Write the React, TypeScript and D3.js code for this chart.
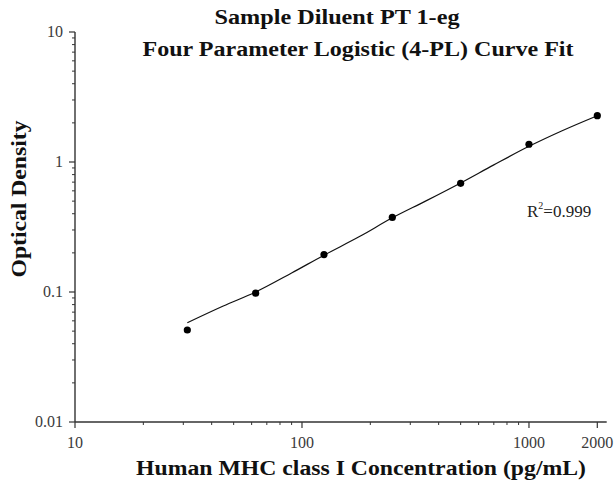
import * as d3 from 'd3';

const W = 615;
const H = 484;

// standards (pg/mL) and measured OD
const concentrations = [31.25, 62.5, 125, 250, 500, 1000, 2000];
const odValues = [0.051, 0.098, 0.194, 0.375, 0.685, 1.37, 2.27];

// fitted 4-PL curve
const curveX = [31.25, 45, 62.5, 90, 125, 180, 250, 350, 500, 700, 1000, 1400, 2000];
const curveY = [0.058, 0.078, 0.100, 0.140, 0.192, 0.268, 0.372, 0.50, 0.69, 0.95, 1.32, 1.74, 2.27];

const xTickLabels = [10, 100, 1000, 2000];
const yTickLabels = [0.01, 0.1, 1, 10];

const titleLines = ['Sample Diluent PT 1-eg', 'Four Parameter Logistic (4-PL) Curve Fit'];
const xTitle = 'Human MHC class I Concentration (pg/mL)';
const yTitle = 'Optical Density';

const serif = '"Liberation Serif", "Times New Roman", serif';
const axisColor = '#333';

export default function App() {
  const x = d3.scaleLog().domain([10, 2200]).range([75, 606.7]);
  const y = d3.scaleLog().domain([0.01, 10]).range([422, 32]);

  const line = d3
    .line<number>()
    .x((d, i) => x(curveX[i]))
    .y((d) => y(d))
    .curve(d3.curveMonotoneX);

  // minor ticks
  const xMinor: number[] = [];
  for (const base of [10, 100, 1000]) {
    for (let k = 2; k <= 9; k++) {
      const v = base * k;
      if (v < 2200 && !xTickLabels.includes(v)) xMinor.push(v);
    }
  }
  const yMinor: number[] = [];
  for (const base of [0.01, 0.1, 1]) {
    for (let k = 2; k <= 9; k++) yMinor.push(base * k);
  }

  const [x0, x1] = x.range();
  const [yb, yt] = y.range();

  return (
    <svg
      width={W}
      height={H}
      style={{ position: 'absolute', left: 0, top: 0, background: '#fff' }}
      fontFamily={serif}
    >
      <rect width={W} height={H} fill="#fff" />

      {/* titles */}
      <text
        x={337}
        y={24}
        textAnchor="middle"
        fontSize={20}
        fontWeight="bold"
        fill="#111"
        textLength={245}
        lengthAdjust="spacingAndGlyphs"
      >
        {titleLines[0]}
      </text>
      <text
        x={358}
        y={56}
        textAnchor="middle"
        fontSize={20}
        fontWeight="bold"
        fill="#111"
        textLength={431}
        lengthAdjust="spacingAndGlyphs"
      >
        {titleLines[1]}
      </text>

      {/* axes */}
      <line x1={x0} x2={x1} y1={yb} y2={yb} stroke={axisColor} strokeWidth={1.4} />
      <line x1={x0} x2={x0} y1={yb} y2={yt} stroke={axisColor} strokeWidth={1.4} />

      {xTickLabels.map((v) => (
        <g key={'xt' + v}>
          <line x1={x(v)} x2={x(v)} y1={yb} y2={yb + 6} stroke={axisColor} strokeWidth={1.2} />
          <text x={x(v)} y={yb + 26} textAnchor="middle" fontSize={16} fill="#3a3a3a">
            {v}
          </text>
        </g>
      ))}
      {xMinor.map((v) => (
        <line key={'xm' + v} x1={x(v)} x2={x(v)} y1={yb} y2={yb + 3} stroke={axisColor} strokeWidth={1} />
      ))}

      {yTickLabels.map((v) => (
        <g key={'yt' + v}>
          <line x1={x0 - 6} x2={x0} y1={y(v)} y2={y(v)} stroke={axisColor} strokeWidth={1.2} />
          <text x={x0 - 12} y={y(v) + 5} textAnchor="end" fontSize={16} fill="#3a3a3a">
            {v}
          </text>
        </g>
      ))}
      {yMinor.map((v) => (
        <line key={'ym' + v} x1={x0 - 3} x2={x0} y1={y(v)} y2={y(v)} stroke={axisColor} strokeWidth={1} />
      ))}

      {/* axis titles */}
      <text
        x={361}
        y={475}
        textAnchor="middle"
        fontSize={20}
        fontWeight="bold"
        fill="#111"
        textLength={450}
        lengthAdjust="spacingAndGlyphs"
      >
        {xTitle}
      </text>
      <text
        transform={`translate(26,199) rotate(-90)`}
        textAnchor="middle"
        fontSize={20}
        fontWeight="bold"
        fill="#111"
        textLength={157}
        lengthAdjust="spacingAndGlyphs"
      >
        {yTitle}
      </text>

      {/* fit curve */}
      <path d={line(curveY) || ''} fill="none" stroke="#111" strokeWidth={1.2} />

      {/* data points */}
      {concentrations.map((c, i) => (
        <circle key={c} cx={x(c)} cy={y(odValues[i])} r={3.6} fill="#000" />
      ))}

      {/* R^2 */}
      <text x={527} y={217} fontSize={17} fill="#222">
        R
        <tspan fontSize={10} dy={-8}>
          2
        </tspan>
        <tspan dy={8}>=0.999</tspan>
      </text>
    </svg>
  );
}
